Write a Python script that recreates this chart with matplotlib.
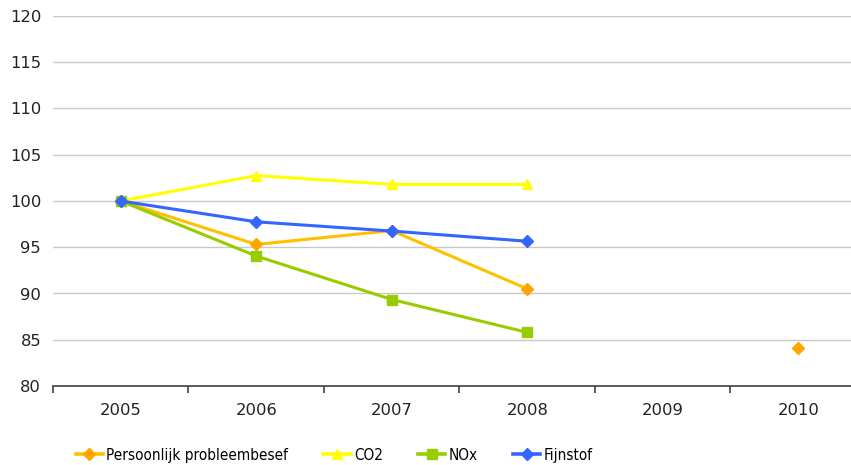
import numpy as np
import matplotlib
matplotlib.use("Agg")
import matplotlib.pyplot as plt
from matplotlib.ticker import MultipleLocator, FixedLocator
from matplotlib import font_manager

years = ["2005", "2006", "2007", "2008", "2009", "2010"]
nan = np.nan
probleembesef = [100, 95.3, 96.8, 90.5, nan, 84.1]
co2 = [100, 102.75, 101.8, 101.8, nan, nan]
nox = [100, 94.05, 89.35, 85.8, nan, nan]
fijnstof = [100, 97.75, 96.75, 95.65, nan, nan]

W, H = 851, 465
fig = plt.figure(figsize=(W / 100, H / 100), dpi=100)
# plot area runs past the right edge of the figure
ax = fig.add_axes([53 / W, (H - 386) / H, 813 / W, 370 / H])

x = np.arange(len(years))
series = [
    ("Persoonlijk probleembesef", probleembesef, "#FFC000", "#FFA500", "D", 6.5),
    ("CO2", co2, "#FFFF00", "#FFFF00", "^", 7.5),
    ("NOx", nox, "#99CC00", "#99CC00", "s", 6.5),
    ("Fijnstof", fijnstof, "#3366FF", "#3366FF", "D", 6.5),
]
for name, vals, lc, mc, mk, ms in series:
    ax.plot(x, vals, color=lc, linewidth=2.2, marker=mk, markersize=ms,
            markerfacecolor=mc, markeredgecolor=mc, label=name, clip_on=False)

ax.set_xlim(-0.5, len(years) - 0.5)
ax.set_ylim(80, 120)
ax.yaxis.set_major_locator(MultipleLocator(5))
ax.grid(axis="y", color="#C8C8C8", linewidth=1.0)
ax.set_axisbelow(True)

for s in ["top", "right", "left"]:
    ax.spines[s].set_visible(False)
ax.spines["bottom"].set_color("#404040")
ax.spines["bottom"].set_linewidth(1.2)

ax.set_xticks(x)
ax.set_xticklabels(years)
ax.xaxis.set_minor_locator(FixedLocator(np.arange(-0.5, len(years), 1.0)))
ax.tick_params(axis="x", which="major", length=0, pad=12, labelsize=11.8, colors="#222222")
ax.tick_params(axis="x", which="minor", length=5, width=1.2, color="#404040", direction="out")
ax.tick_params(axis="y", length=0, pad=8.5, labelsize=11.8, colors="#222222")

# narrow face for the legend if one is around
names = {f.name for f in font_manager.fontManager.ttflist}
if "Liberation Sans Narrow" in names:
    legend_font = font_manager.FontProperties(family="Liberation Sans Narrow", size=11.5)
else:
    legend_font = font_manager.FontProperties(family="DejaVu Sans", stretch="condensed", size=11)

leg = fig.legend(loc="center", bbox_to_anchor=(334 / W, 1 - 455 / H), ncol=4,
                 frameon=False, handlelength=1.8, handletextpad=0.2, columnspacing=2.3,
                 prop=legend_font)
for line in leg.get_lines():
    line.set_linewidth(2.6)

fig.savefig("out.png", dpi=100)
